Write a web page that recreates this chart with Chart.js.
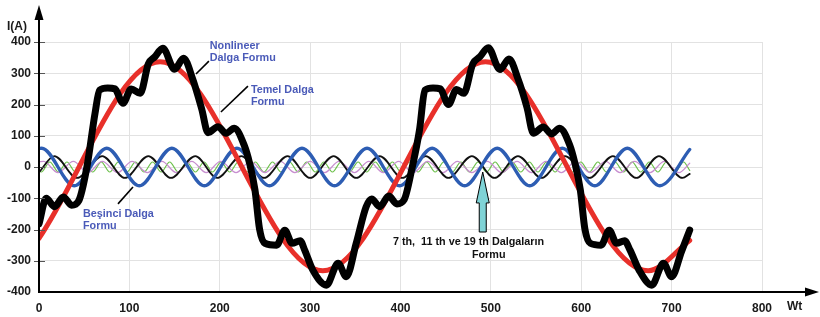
<!DOCTYPE html>
<html><head><meta charset="utf-8">
<script src="https://cdn.jsdelivr.net/npm/chart.js@4.4.0/dist/chart.umd.min.js"></script>
<style>html,body{margin:0;padding:0;background:#fff;}canvas{display:block;}</style>
</head><body>
<canvas id="c" width="820" height="317"></canvas>
<script>
// ---- tick labels ----
const xTicks = [0,100,200,300,400,500,600,700,800];
const yTicks = [-400,-300,-200,-100,0,100,200,300,400];

// ---- Nonlineer dalga formu (thick black) ----
const nonlinX = [0,8,17,27,36,44,53,62,67,76,84,93,102,112,121,128,137,150,160,170,180,187,198,207,216,227,233,239,244,250,263,272,280,289,294,303,318,331,340,351,362,
                 368,377,387,396,404,413,421,427,436,444,453,462,470,480,488,497,510,520,530,540,547,558,567,576,587,593,599,604,610,622,631,639,648,654,664,678,691,700,711,720];
const nonlinY = [-182,-100,-127,-96,-122,-108,0,172,246,253,250,204,250,236,330,352,380,313,348,282,186,110,129,108,124,70,12,-74,-198,-244,-250,-202,-244,-236,-266,-330,-378,-308,-351,-244,-127,
                 -102,-127,-93,-118,-105,0,118,246,253,250,200,248,236,330,353,382,312,346,282,190,108,128,106,124,72,12,-74,-198,-244,-250,-202,-244,-236,-266,-330,-378,-308,-351,-270,-202];

// ---- Temel dalga formu (red) ----
const fundX = [0,134,314,494,674,720];
const fundY = [-228,337,-332,337,-332,-235];

// ---- Beşinci dalga formu (blue) ----
const fifthX = [0,3,39,75,111,147,183,219,255,291,327,363,399,435,471,507,543,579,615,651,687,720];
const fifthY = [59,60,-60,60,-60,60,-60,60,-60,60,-60,60,-60,60,-60,60,-60,60,-60,60,-60,56];

// ---- 7th harmonic (thin black) ----
const seventhX = [0,17,42,70,95,121,146,173,197,224,249,275,300,326,351,377,402,428,453,479,504,530,556,582,609,635,661,686,712,720];
const seventhY = [-17,35,-35,35,-35,35,-35,35,-35,35,-35,35,-35,35,-35,35,-35,35,-35,35,-35,35,-35,35,-35,35,-35,35,-35,-22];

// ---- 11th harmonic (pink) ----
const eleventhX = [0,5,21,38,54,70,87,103,120,136,152,169,185,201,218,234,250,267,283,300,316,332,349,365,381,398,414,430,447,463,479,496,512,529,545,561,578,594,610,627,643,659,676,692,708,720];
const eleventhY = [17,18,-18,18,-18,18,-18,18,-18,18,-18,18,-18,18,-18,18,-18,18,-18,18,-18,18,-18,18,-18,18,-18,18,-18,18,-18,18,-18,18,-18,18,-18,18,-18,18,-18,18,-18,18,-18,12];

// ---- 19th harmonic (green) ----
const ninteenthX = [0,2.5,12,21.5,30.9,40.4,49.9,59.4,68.9,78.3,87.8,97.3,106.7,116.2,125.7,135.2,144.6,154.1,163.6,173.1,182.6,192,201.5,211,220.5,229.9,239.4,248.9,258.4,267.8,277.3,286.8,296.3,305.7,315.2,324.7,334.2,343.6,353.1,362.6,372.1,381.5,391,400.5,410,419.4,428.9,438.4,447.9,457.3,466.8,476.3,485.8,495.2,504.7,514.2,523.7,533.1,542.6,552.1,561.6,571.1,580.5,590,599.5,609,618.4,627.9,637.4,646.9,656.3,665.8,675.3,684.8,694.2,703.7,713.2,720];
const ninteenthY = [-11,-16,16,-16,16,-16,16,-16,16,-16,16,-16,16,-16,16,-16,16,-16,16,-16,16,-16,16,-16,16,-16,16,-16,16,-16,16,-16,16,-16,16,-16,16,-16,16,-16,16,-16,16,-16,16,-16,16,-16,16,-16,16,-16,16,-16,16,-16,16,-16,16,-16,16,-16,16,-16,16,-16,16,-16,16,-16,16,-16,16,-16,16,-16,16,-11];

const pts = (xs, ys) => xs.map((x, i) => ({x: x, y: ys[i]}));

const FONT = "'Liberation Sans', Arial, sans-serif";

const overlay = {
  id: 'overlay',
  afterDraw(chart) {
    const ctx = chart.ctx, xs = chart.scales.x, ys = chart.scales.y;
    const X = v => xs.getPixelForValue(v), Y = v => ys.getPixelForValue(v);
    const x0 = X(0), yb = Y(-400);
    ctx.save();
    // y tick marks crossing the axis
    ctx.strokeStyle = '#555'; ctx.lineWidth = 1;
    yTicks.forEach(v => {
      if (v === -400) return;
      const y = Math.round(Y(v)) + 0.5;
      ctx.beginPath(); ctx.moveTo(x0 - 5, y); ctx.lineTo(x0 + 6, y); ctx.stroke();
    });
    // axes with arrows
    ctx.strokeStyle = '#000'; ctx.fillStyle = '#000'; ctx.lineWidth = 2;
    ctx.beginPath(); ctx.moveTo(x0, yb + 1); ctx.lineTo(x0, 16); ctx.stroke();
    ctx.beginPath(); ctx.moveTo(x0, 5); ctx.lineTo(x0 - 4.5, 20); ctx.lineTo(x0 + 4.5, 20); ctx.closePath(); ctx.fill();
    ctx.beginPath(); ctx.moveTo(x0 - 1, yb); ctx.lineTo(808, yb); ctx.stroke();
    ctx.beginPath(); ctx.moveTo(819, yb); ctx.lineTo(805, yb - 4.5); ctx.lineTo(805, yb + 4.5); ctx.closePath(); ctx.fill();

    // axis titles
    ctx.fillStyle = '#1a1a1a';
    ctx.font = 'bold 12px ' + FONT;
    ctx.textBaseline = 'alphabetic'; ctx.textAlign = 'left';
    ctx.fillText('I(A)', 7, 30);
    ctx.fillText('Wt', 787, 310);

    // annotation leader lines
    ctx.strokeStyle = '#000'; ctx.lineWidth = 1.6;
    const seg = (a, b, c, d) => { ctx.beginPath(); ctx.moveTo(X(a), Y(b)); ctx.lineTo(X(c), Y(d)); ctx.stroke(); };
    seg(173.7, 297.6, 188, 339);
    seg(201.3, 176, 231.2, 259);
    seg(87.4, -118, 104, -64);

    // annotation texts
    ctx.font = 'bold 10.8px ' + FONT;
    ctx.fillStyle = '#4a5ab8';
    ctx.fillText('Nonlineer', X(189), Y(378));
    ctx.fillText('Dalga Formu', X(189), Y(378) + 12);
    ctx.fillText('Temel Dalga', X(234.5), Y(237));
    ctx.fillText('Formu', X(234.5), Y(237) + 12);
    ctx.fillText('Beşinci Dalga', X(48.7), Y(-160));
    ctx.fillText('Formu', X(48.7), Y(-160) + 12);
    ctx.fillStyle = '#111';
    ctx.font = 'bold 10.8px ' + FONT;
    ctx.fillText('7 th,  11 th ve 19 th Dalgaların', X(391.6), Y(-250));
    ctx.fillText('Formu', X(479), Y(-250) + 13);

    // arrow
    const ax = X(491), tip = Y(-16), hb = Y(-115), bot = Y(-208);
    ctx.beginPath();
    ctx.moveTo(ax, tip);
    ctx.lineTo(ax + 6.5, hb);
    ctx.lineTo(ax + 3.5, hb);
    ctx.lineTo(ax + 3.5, bot);
    ctx.lineTo(ax - 3.5, bot);
    ctx.lineTo(ax - 3.5, hb);
    ctx.lineTo(ax - 6.5, hb);
    ctx.closePath();
    ctx.fillStyle = '#7fd3d6'; ctx.fill();
    ctx.strokeStyle = '#000'; ctx.lineWidth = 1; ctx.stroke();
    ctx.restore();
  }
};

const ds = (label, xs, ys, color, width, order) => ({
  label: label, data: pts(xs, ys), borderColor: color, borderWidth: width,
  pointRadius: 0, fill: false, cubicInterpolationMode: 'monotone', order: order,
  borderCapStyle: 'round', borderJoinStyle: 'round'
});

new Chart(document.getElementById('c'), {
  type: 'line',
  data: {
    datasets: [
      ds('Nonlineer Dalga Formu', nonlinX, nonlinY, '#000000', 7, 0),
      ds('Temel Dalga Formu', fundX, fundY, '#e8302a', 5, 1),
      ds('Beşinci Dalga Formu', fifthX, fifthY, '#2d5db3', 3.3, 2),
      ds('7 th', seventhX, seventhY, '#111111', 1.8, 3),
      ds('11 th', eleventhX, eleventhY, '#c88fd0', 1.2, 4),
      ds('19 th', ninteenthX, ninteenthY, '#6cc04a', 1.2, 5)
    ]
  },
  options: {
    responsive: false, animation: false, devicePixelRatio: 1,
    layout: { padding: { top: 42, right: 58, left: 0, bottom: 0 } },
    plugins: { legend: { display: false }, tooltip: { enabled: false } },
    scales: {
      x: {
        type: 'linear', min: 0, max: 800,
        afterFit: s => { s.height = 25; },
        afterBuildTicks: s => { s.ticks = xTicks.map(v => ({value: v})); },
        grid: { color: '#e2e2e2', lineWidth: 1, drawTicks: false },
        border: { display: false },
        ticks: { padding: 9, color: '#1a1a1a', font: { family: FONT, size: 12, weight: 'bold' } }
      },
      y: {
        type: 'linear', min: -400, max: 400,
        afterFit: s => { s.width = 39; },
        afterBuildTicks: s => { s.ticks = yTicks.map(v => ({value: v})); },
        grid: { color: '#e2e2e2', lineWidth: 1, drawTicks: false },
        border: { display: false },
        ticks: { padding: 8, color: '#1a1a1a', font: { family: FONT, size: 12, weight: 'bold' } }
      }
    }
  },
  plugins: [overlay]
});
</script>
</body></html>
